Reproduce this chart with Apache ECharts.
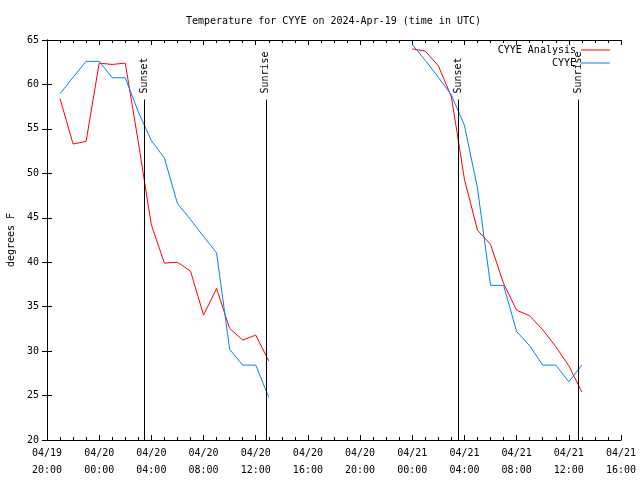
<!DOCTYPE html>
<html><head><meta charset="utf-8">
<script src="https://cdn.jsdelivr.net/npm/echarts@6/dist/echarts.min.js"></script>
<style>html,body{margin:0;padding:0;background:#fff}#c{width:640px;height:480px}</style>
</head><body><div id="c"></div>
<script>
// hours since 04/19 20:00 UTC
const xTickLabels = ['04/19\n20:00','04/20\n00:00','04/20\n04:00','04/20\n08:00','04/20\n12:00','04/20\n16:00','04/20\n20:00','04/21\n00:00','04/21\n04:00','04/21\n08:00','04/21\n12:00','04/21\n16:00'];

const analysisHours1 = [1,2,3,4,5,6,7,8,9,10,11,12,13,14,15,16,17];
const analysisTemps1 = [58.4,53.3,53.6,62.4,62.25,62.4,53.5,44.2,39.9,40.0,39.0,34.05,37.05,32.55,31.24,31.8,28.9];
const analysisHours2 = [28,29,30,31,32,33,34,35,36,37,38,39,40,41];
const analysisTemps2 = [64.0,63.75,62.1,58.6,49.3,43.6,42.0,37.6,34.6,33.97,32.4,30.5,28.35,25.4];

const obsHours1 = [1,2,3,4,5,6,7,8,9,10,11,12,13,14,15,16,17];
const obsTemps1 = [58.95,60.8,62.6,62.6,60.75,60.75,56.9,53.7,51.7,46.6,44.8,42.9,41.05,30.2,28.43,28.43,24.8];
const obsHours2 = [28,29,30,31,32,33,34,35,36,37,38,39,40,41];
const obsTemps2 = [64.5,62.7,60.8,58.8,55.4,48.3,37.4,37.4,32.2,30.6,28.43,28.43,26.55,28.43];

const sunEvents = ['Sunset','Sunrise','Sunset','Sunrise'];
const sunHours = [7.49,16.78,31.53,40.72];

const FONT = 'DejaVu Sans Mono';
const FS = 10;
function pairs(h, v){ return h.map((x,i)=>[x, v[i]]); }

const markData = [];
sunHours.forEach((h,i)=>{
  markData.push([{name:'', coord:[h,20]},{coord:[h,58.3]}]);
  markData.push([{name:sunEvents[i], coord:[h,58.3], lineStyle:{color:'rgba(0,0,0,0)'}},{coord:[h,65]}]);
});

const axisCommonX = {
  type:'value', min:0, max:44, interval:4,
  axisLine:{lineStyle:{color:'#000', width:1}},
  axisTick:{inside:true, length:5, lineStyle:{color:'#000'}},
  minorTick:{show:true, splitNumber:4, length:3, lineStyle:{color:'#000'}},
  splitLine:{show:false}
};
const axisCommonY = {
  type:'value', min:20, max:65, interval:5,
  axisLine:{show:true, lineStyle:{color:'#000', width:1}},
  axisTick:{show:true, inside:true, length:5, lineStyle:{color:'#000'}},
  splitLine:{show:false}
};

const chart = echarts.init(document.getElementById('c'), null, {renderer:'canvas'});
chart.setOption({
  animation:false,
  backgroundColor:'#fff',
  title:{text:'Temperature for CYYE on 2024-Apr-19 (time in UTC)', left:186, top:16, padding:0,
    textStyle:{fontFamily:FONT, fontSize:FS, fontWeight:'normal', color:'#000'}},
  legend:[
    {data:['CYYE Analysis'], right:30, top:45, padding:0, align:'right', icon:'rect', itemWidth:29, itemHeight:1,
      textStyle:{fontFamily:FONT, fontSize:FS, color:'#000'}},
    {data:['CYYE'], right:30, top:58, padding:0, align:'right', icon:'rect', itemWidth:29, itemHeight:1,
      textStyle:{fontFamily:FONT, fontSize:FS, color:'#000'}}
  ],
  grid:{left:47, right:19, top:40, bottom:40, outerBoundsMode:'none', containLabel:false},
  xAxis:[
    Object.assign({}, axisCommonX, {position:'bottom',
      axisLabel:{margin:5, fontFamily:FONT, fontSize:FS, color:'#000', lineHeight:17,
        formatter:(v)=> xTickLabels[Math.round(v/4)] }}),
    Object.assign({}, axisCommonX, {position:'top', axisLabel:{show:false}})
  ],
  yAxis:[
    Object.assign({}, axisCommonY, {position:'left', name:'degrees F', nameLocation:'middle', nameGap:31,
      nameTextStyle:{fontFamily:FONT, fontSize:FS, color:'#000'},
      axisLabel:{margin:8, fontFamily:FONT, fontSize:FS, color:'#000'}}),
    Object.assign({}, axisCommonY, {position:'right', axisLabel:{show:false}})
  ],
  series:[
    {name:'CYYE Analysis', type:'line', data:pairs(analysisHours1, analysisTemps1), symbol:'none',
      lineStyle:{color:'#ff0000', width:1}, itemStyle:{color:'#ff0000'},
      markLine:{silent:true, symbol:'none', lineStyle:{color:'#000', width:1, type:'solid'},
        label:{show:true, position:'insideStart', distance:6, formatter:(p)=>p.name,
          fontFamily:FONT, fontSize:FS, color:'#000', opacity:1},
        data:markData}},
    {name:'CYYE Analysis', type:'line', data:pairs(analysisHours2, analysisTemps2), symbol:'none',
      lineStyle:{color:'#ff0000', width:1}, itemStyle:{color:'#ff0000'}},
    {name:'CYYE', type:'line', data:pairs(obsHours1, obsTemps1), symbol:'none',
      lineStyle:{color:'#0080ff', width:1}, itemStyle:{color:'#0080ff'}},
    {name:'CYYE', type:'line', data:pairs(obsHours2, obsTemps2), symbol:'none',
      lineStyle:{color:'#0080ff', width:1}, itemStyle:{color:'#0080ff'}}
  ]
});
</script></body></html>
